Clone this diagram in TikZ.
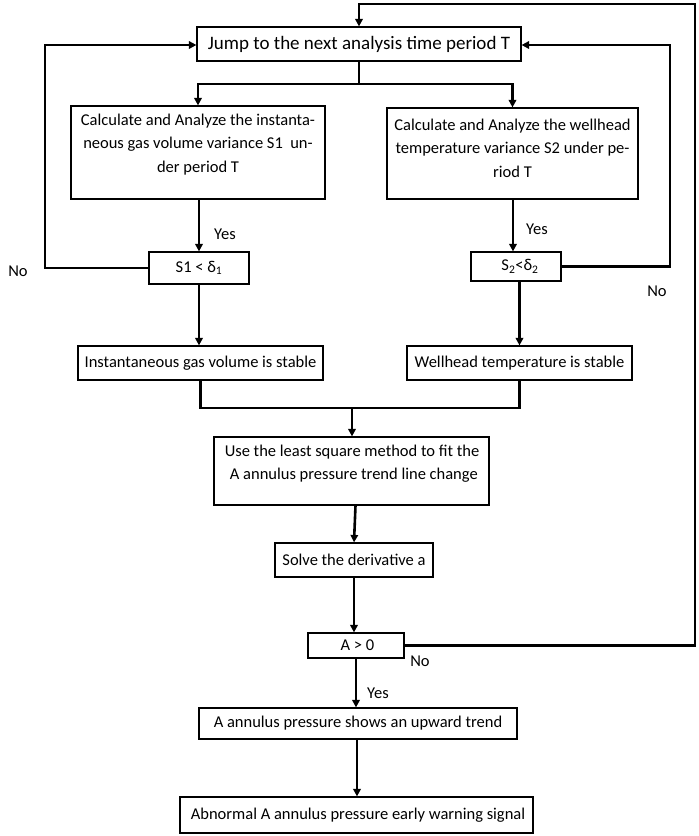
\documentclass[tikz,border=0pt]{standalone}
\usepackage{fontspec}
\setmainfont{Carlito}
\usetikzlibrary{arrows.meta,calc}
\begin{document}
\begin{tikzpicture}[x=1pt,y=-1pt,
  box/.style={draw=black,line width=1.2pt,inner sep=0pt,align=center,
    font=\fontsize{16.5}{23}\selectfont},
  txt/.style={inner sep=0pt,align=center,font=\fontsize{16.5}{23.5}\selectfont},
  lab/.style={inner sep=0pt,font=\fontsize{16.5}{20}\selectfont},
  conn/.style={line width=2.6pt,line join=miter},
  arr/.style={conn,-{Triangle[length=7.5pt,width=7.5pt]}}]
\useasboundingbox (0,0) rectangle (699,836);
\fill[white] (0,0) rectangle (699,836);

% boxes
\node[box,minimum width=324pt,minimum height=34pt,font=\fontsize{19}{23}\selectfont] (top) at (359,44) {Jump to the next analysis time period T};
\node[box,minimum width=254pt,minimum height=93pt] (c1) at (198,152.5) {};
\node[txt] (c1t) at (198,144.5) {Calculate and Analyze the instanta-\\neous gas volume variance S1\ \ un-\\der period T};
\node[box,minimum width=251pt,minimum height=91pt] (c2) at (512.5,153.5) {};
\node[txt] (c2t) at (512.5,148) {Calculate and Analyze the wellhead\\temperature variance S2 under pe-\\riod T};
\node[box,minimum width=100pt,minimum height=32pt] (s1) at (199,268) {S1 < δ\textsubscript{1}};
\node[box,minimum width=90pt,minimum height=29pt] (s2) at (516,266.5) {\hspace{8pt}S\textsubscript{2}<δ\textsubscript{2}};
\node[box,minimum width=245pt,minimum height=34pt] (inst) at (200.5,363) {Instantaneous gas volume is stable};
\node[box,minimum width=225pt,minimum height=34pt] (well) at (519.5,363) {Wellhead temperature is stable};
\node[box,minimum width=275pt,minimum height=68pt] (ls) at (351.5,471) {};
\node[txt,align=center] (lst) at (352,463.5) {Use the least square method to fit the\\\ A annulus pressure trend line change};
\node[box,minimum width=158pt,minimum height=34pt] (solve) at (354,560) {Solve the derivative a};
\node[box,minimum width=96pt,minimum height=25pt] (a0) at (356,645.5) {\hspace{3pt}A > 0};
\node[box,minimum width=318pt,minimum height=31pt] (up) at (358,723.5) {A annulus pressure shows an upward trend};
\node[box,minimum width=353pt,minimum height=36pt] (warn) at (356.5,815) {\hspace{3pt}Abnormal A annulus pressure early warning signal};

% labels
\node[lab] (y1) at (225,234) {Yes};
\node[lab] (y2) at (537,229) {Yes};
\node[lab] (n1) at (18,271) {No};
\node[lab] (n2) at (657,291) {No};
\node[lab] (n3) at (420,661) {No};
\node[lab] (y3) at (378,693) {Yes};

% coordinates
\coordinate (sp) at (359,84);
\coordinate (mg) at (352,408);
\coordinate (ll) at (45,45);
\coordinate (rl) at (670,45);
\coordinate (rr) at (695,4);

% connectors
\draw[conn] (top.south) -- (sp);
\draw[arr] (sp) -| (c1.north);
\draw[arr] (sp) -| (c2.north);
\draw[arr] (s1.north |- c1.south) -- (s1.north);
\draw[arr] ($(s2.north |- c2.south)+(-3,0)$) -- ($(s2.north)+(-3,0)$);
\draw[arr] (s1.south) -- (s1.south |- inst.north);
\draw[arr] (well.north |- s2.south) -- (well.north);
\draw[conn] (inst.south) |- (mg) -| (well.south);
\draw[arr] (mg) -- (mg |- ls.north);
\draw[arr] ($(ls.south)+(4,0)$) -- (solve.north);
\draw[arr] (solve.south) -- (solve.south |- a0.north);
\draw[arr] (a0.south) -- (a0.south |- up.north);
\draw[arr] ($(up.south)+(-1,0)$) -- ($(up.south |- warn.north)+(-1,0)$);
\draw[arr] (a0.east) -| (rr) -| (top.north);
\draw[arr] (s1.west) -| (ll) -- (ll -| top.west);
\draw[arr] (s2.east) -| (rl) -- (rl -| top.east);
\end{tikzpicture}
\end{document}
